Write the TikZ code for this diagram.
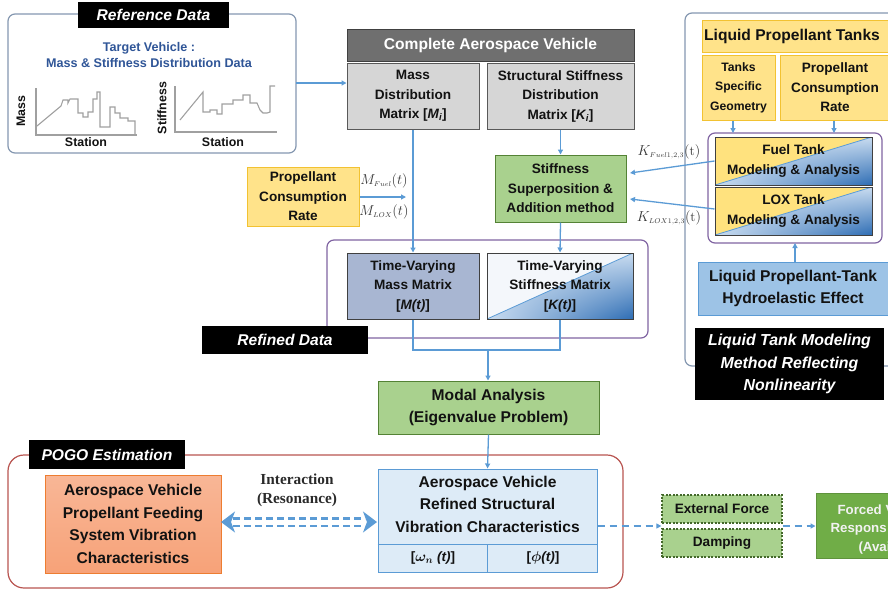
\documentclass[tikz,border=0pt]{standalone}
\usepackage{fontspec}
\newfontfamily\sansf{Liberation Sans}
\newfontfamily\seriff{Liberation Serif}
\usetikzlibrary{arrows.meta,calc,shadings}
\definecolor{arrblue}{HTML}{5B9BD5}
\definecolor{panelblue}{HTML}{8497B0}
\definecolor{purp}{HTML}{8064A2}
\definecolor{pogored}{HTML}{B85450}
\definecolor{yelfill}{HTML}{FFE38A}
\definecolor{yeldraw}{HTML}{F2C232}
\definecolor{grnfill}{HTML}{A9D18E}
\definecolor{grndraw}{HTML}{548235}
\definecolor{grayfill}{HTML}{D6D6D6}
\definecolor{graydraw}{HTML}{595959}
\definecolor{hdrfill}{HTML}{6F6F6F}
\definecolor{hdrdraw}{HTML}{404040}
\definecolor{tvmfill}{HTML}{A8B6D2}
\definecolor{reffill}{HTML}{DDEBF7}
\definecolor{orgfill}{HTML}{F7A47C}
\definecolor{orgdraw}{HTML}{ED7D31}
\definecolor{hydfill}{HTML}{9DC3E6}
\definecolor{forcefill}{HTML}{70AD47}
\definecolor{txtblue}{HTML}{2F5597}
\definecolor{chartgray}{HTML}{A0A0A0}
\definecolor{bluelt}{HTML}{C9DCF0}
\definecolor{bluedk}{HTML}{2E6DB4}
\definecolor{txtdark}{HTML}{121212}
\definecolor{paleul}{HTML}{F4F7FB}
\definecolor{yelul}{HTML}{FFE27E}
\newcommand\szA{\fontsize{13.6}{19.5}\selectfont}
\newcommand\szB{\fontsize{15.6}{22.5}\selectfont}
\tikzset{
  box/.style={draw=graydraw, line width=1pt, align=center, inner sep=0pt, text=txtdark, font=\sansf\bfseries\szA},
  blabel/.style={fill=black, text=white, align=center, inner sep=0pt, font=\sansf\bfseries\itshape\szB},
  arr/.style={draw=arrblue, line width=1.3pt, -{Triangle[length=5pt,width=5pt]}},
  bline/.style={draw=arrblue, line width=1.3pt},
  panel/.style={line width=1.2pt, rounded corners=7pt},
  chart/.style={draw=chartgray, line width=1.1pt},
  chartlbl/.style={font=\sansf\bfseries\fontsize{12.4}{13}\selectfont, text=txtdark, inner sep=0pt},
  mathlbl/.style={font=\fontsize{13.5}{14}\selectfont, text=txtdark!85, inner sep=0pt},
  halfshade/.style={path picture={
    \fill[#1] (path picture bounding box.south west) -- (path picture bounding box.north west) -- (path picture bounding box.north east) -- cycle;
    \shade[upper left=bluelt, upper right=bluelt, lower left=bluelt, lower right=bluedk] (path picture bounding box.south west) -- (path picture bounding box.north east) -- (path picture bounding box.south east) -- cycle;
    \draw[arrblue, line width=0.8pt] (path picture bounding box.south west) -- (path picture bounding box.north east);
  }},
}
\begin{document}
\begin{tikzpicture}[x=1pt,y=-1pt]
\useasboundingbox (0,0) rectangle (888,590);
\clip (0,0) rectangle (888,590);

% ---------- Reference data panel ----------
\draw[panel, draw=panelblue] (8,14) rectangle (296,153);
\node[blabel, minimum width=151pt, minimum height=26pt] (reftitle) at (153.5,15) {Reference Data};
\node[font=\sansf\bfseries\fontsize{12.6}{16}\selectfont, text=txtblue, align=center, inner sep=0pt] (target) at (149,55) {Target Vehicle :\\Mass \& Stiffness Distribution Data};
\draw[chart] (36,88) -- (36,135) -- (137,135);
\draw[chart] (37,126) -- (61,106) -- (63,100) -- (68,100) -- (68,103) -- (70,99) -- (78,99) -- (78,113) -- (83,113) -- (83,117) -- (88,117) -- (88,112) -- (93,112) -- (93,99) -- (97,99) -- (97,92) -- (100,92) -- (100,127) -- (110,127) -- (110,107) -- (115,107) -- (115,113) -- (120,113) -- (120,118) -- (128,118) -- (128,121) -- (135,121) -- (135,135);
\node[chartlbl, rotate=90] (masslbl) at (21,111) {Mass};
\node[chartlbl] (st1) at (86,142) {Station};
\draw[chart] (175,86) -- (175,132) -- (277,132);
\draw[chart] (180,120) -- (203,92) -- (203,112) -- (210,112) -- (210,110) -- (217,110) -- (217,114) -- (222,114) -- (222,104) -- (233,104) -- (233,100) -- (243,100) -- (243,95) -- (250,95) -- (250,103) -- (257,103) -- (260,110) -- (263,113) -- (267,113) -- (270,112) -- (270,86) -- (275,86);
\node[chartlbl, rotate=90] (stiflbl) at (162,108) {Stiffness};
\node[chartlbl] (st2) at (223,142) {Station};
\coordinate (refout) at (296,83);

% ---------- Complete vehicle ----------
\node[box, fill=hdrfill, draw=hdrdraw, text=white, font=\sansf\bfseries\szB, minimum width=287pt, minimum height=32pt] (cav) at (490.5,45) {Complete Aerospace Vehicle};
\node[box, fill=grayfill, minimum width=132pt, minimum height=66pt] (massdist) at (413,96) {Mass\\Distribution\\Matrix {[}\textit{M\textsubscript{i}}]};
\node[box, fill=grayfill, minimum width=147pt, minimum height=66pt] (stiffdist) at (560.5,96) {Structural Stiffness\\Distribution\\Matrix {[}\textit{K\textsubscript{i}}]};
\draw[arr] (refout) -- (refout -| massdist.west);

% ---------- propellant / superposition ----------
\node[box, fill=yelfill, draw=yeldraw, minimum width=112pt, minimum height=59pt] (prop) at (303,196.5) {Propellant\\Consumption\\Rate};
\coordinate (propend) at (406,197);
\draw[arr] (prop.east |- propend) -- (propend);
\node[mathlbl] (mfuel) at (384,181) {$M_{\scriptscriptstyle Fuel}(t)$};
\node[mathlbl] (mlox) at (384,212) {$M_{\scriptscriptstyle LOX}(t)$};
\node[box, fill=grnfill, draw=grndraw, minimum width=131pt, minimum height=67pt] (superpos) at (560.5,188.5) {Stiffness\\Superposition \&\\Addition method};
\draw[arr] (stiffdist.south) -- (superpos.north);

% ---------- refined data ----------
\draw[panel, draw=purp] (327,240) rectangle (648,338);
\node[box, fill=tvmfill, draw=hdrdraw, minimum width=132pt, minimum height=66pt] (tvmass) at (413,286) {Time-Varying\\Mass Matrix\\{[}\textit{M(t)}]};
\node[box, draw=hdrdraw, halfshade=paleul, minimum width=146pt, minimum height=66pt] (tvstiff) at (560,286) {Time-Varying\\Stiffness Matrix\\{[}\textit{K(t)}]};
\node[blabel, minimum width=166pt, minimum height=28pt] (refdata) at (285,340) {Refined Data};
\draw[arr] (massdist.south) -- (tvmass.north);
\draw[arr] (superpos.south) -- (tvstiff.north);
\coordinate (join) at (488,350);
\draw[bline] (tvmass.south) -- (tvmass.south |- join) -- (tvstiff.south |- join) -- (tvstiff.south);

% ---------- modal analysis ----------
\node[box, fill=grnfill, draw=grndraw, font=\sansf\bfseries\szB, minimum width=221pt, minimum height=53pt] (modal) at (488.5,407.5) {Modal Analysis\\(Eigenvalue Problem)};
\draw[arr] (join) -- (join |- modal.north);

% ---------- POGO ----------
\draw[line width=1.2pt, rounded corners=16pt, draw=pogored] (8,455) rectangle (623,588);
\node[blabel, minimum width=156pt, minimum height=29pt] (pogo) at (107,454.5) {POGO Estimation};
\node[box, top color=orgfill!80!white, bottom color=orgfill!95!orgdraw, draw=orgdraw, font=\sansf\bfseries\szB, minimum width=176pt, minimum height=98pt] (orange) at (133,524) {Aerospace Vehicle\\Propellant Feeding\\System Vibration\\Characteristics};
\node[box, fill=reffill, draw=arrblue, minimum width=219pt, minimum height=103pt] (refd) at (487.5,520.5) {};
\coordinate (rowline) at (488,544);
\draw[arrblue, line width=1pt] (refd.west |- rowline) -- (refd.east |- rowline);
\draw[arrblue, line width=1pt] (refd.south) -- (refd.south |- rowline);
\node[box, draw=none, font=\sansf\bfseries\szB, fill=none] (refdtxt) at (487.5,504) {Aerospace Vehicle\\Refined Structural\\Vibration Characteristics};
\node[box, draw=none, fill=none] (omg) at (433,558) {{[}{\boldmath$\omega_n$} \textit{(t)}]};
\node[box, draw=none, fill=none] (phi) at (543,558) {{[}{\boldmath$\phi$}\textit{(t)}]};
\draw[arr] (modal.south) -- (refd.north);

\node[font=\seriff\bfseries\fontsize{15.3}{19.5}\selectfont, text=txtdark!90, align=center, inner sep=0pt] (inter) at (297,490.5) {Interaction\\(Resonance)};
\coordinate (da1) at (221,522);
\coordinate (da2) at (377,522);
\draw[arrblue, line width=1pt, dash pattern=on 0pt off 800pt, {Stealth[length=14pt,width=21pt,inset=4pt]}-{Stealth[length=14pt,width=21pt,inset=4pt]}] (da1) -- (da2);
\draw[arrblue, line width=2.6pt, dash pattern=on 7pt off 4pt] ($(da1)+(12,-3.8)$) -- ($(da2)+(-12,-3.8)$);
\draw[arrblue, line width=2.6pt, dash pattern=on 7pt off 4pt] ($(da1)+(12,3.8)$) -- ($(da2)+(-12,3.8)$);

% ---------- external force / damping / forced ----------
\node[box, fill=grnfill, draw=grndraw!80!black, dash pattern=on 2pt off 1.5pt, line width=1.3pt, minimum width=120pt, minimum height=28pt] (extf) at (722,509) {External Force};
\node[box, fill=grnfill, draw=grndraw!80!black, dash pattern=on 2pt off 1.5pt, line width=1.3pt, minimum width=120pt, minimum height=28pt] (damp) at (722,543) {Damping};
\coordinate (gapL) at ($(extf.south west)!.5!(damp.north west)$);
\coordinate (gapR) at ($(extf.south east)!.5!(damp.north east)$);
\draw[arr, dash pattern=on 7pt off 5pt] (refd.east |- gapL) -- (gapL);
\node[box, fill=forcefill, draw=forcefill!85!black, minimum width=90pt, minimum height=65pt] (forced) at (861,525.5) {};
\draw[arr, dash pattern=on 7pt off 5pt] (gapR) -- (forced.west |- gapR);
\node[box, draw=none, fill=none, text=white!95!black, font=\sansf\bfseries\fontsize{13.3}{16}\selectfont, anchor=west] (ft1) at (837,510) {Forced V};
\node[box, draw=none, fill=none, text=white!95!black, font=\sansf\bfseries\fontsize{13.3}{16}\selectfont, anchor=west] (ft2) at (830,529) {Respons};
\node[box, draw=none, fill=none, text=white!95!black, font=\sansf\bfseries\fontsize{13.3}{16}\selectfont, anchor=west] (ft3) at (858,548) {(Avai};

% ---------- right panel: liquid tanks ----------
\draw[panel, draw=panelblue] (685,13) rectangle (905,366);
\node[box, fill=yelfill, draw=yeldraw, minimum width=193pt, minimum height=32pt] (lptbox) at (798.5,36) {};
\node[box, draw=none, fill=none, font=\sansf\bfseries\szB] (lpt) at (792,36) {Liquid Propellant Tanks};
\node[box, fill=yelfill, draw=yeldraw, font=\sansf\bfseries\fontsize{12.2}{19.5}\selectfont, minimum width=73pt, minimum height=65pt] (tsg) at (738.5,87.5) {Tanks\\Specific\\Geometry};
\node[box, fill=yelfill, draw=yeldraw, minimum width=115pt, minimum height=65pt] (pcr2box) at (837.5,87.5) {};
\node[box, draw=none, fill=none] (pcr2) at (835,87.5) {Propellant\\Consumption\\Rate};
\draw[panel, draw=purp] (708,133) rectangle (882,243);
\node[box, draw=hdrdraw, halfshade=yelul, minimum width=157pt, minimum height=48pt] (fuel) at (793.5,161) {Fuel Tank\\Modeling \& Analysis};
\node[box, draw=hdrdraw, halfshade=yelul, minimum width=157pt, minimum height=48pt] (lox) at (793.5,211) {LOX Tank\\Modeling \& Analysis};
\coordinate (tp1) at (733,133);
\coordinate (tp2) at (834,133);
\draw[arr] (tp1 |- tsg.south) -- (tp1);
\draw[arr] (tp2 |- pcr2box.south) -- (tp2);
\node[box, fill=hydfill, draw=arrblue, minimum width=197pt, minimum height=53pt] (hydrobox) at (796.5,288.5) {};
\node[box, draw=none, fill=none, font=\sansf\bfseries\szB] (hydro) at (793,288.5) {Liquid Propellant-Tank\\Hydroelastic Effect};
\coordinate (tp3) at (795,243);
\draw[arr] (tp3 |- hydrobox.north) -- (tp3);
\node[blabel, font=\sansf\bfseries\itshape\fontsize{15.9}{22.5}\selectfont, minimum width=189pt, minimum height=72pt] (nonlin) at (789.5,364) {Liquid Tank Modeling\\Method Reflecting\\Nonlinearity};

% ---------- K arrows ----------
\coordinate (kf) at (630,173);
\coordinate (kl) at (630,199);
\draw[arr] (fuel.west) -- (kf);
\draw[arr] (lox.west |- 0,209) -- (kl);
\node[mathlbl] (kfuel) at (669,152) {$K_{\scriptscriptstyle Fuel1,2,3}(\mathrm{t})$};
\node[mathlbl] (klox) at (669,218) {$K_{\scriptscriptstyle LOX1,2,3}(\mathrm{t})$};
\end{tikzpicture}
\end{document}
